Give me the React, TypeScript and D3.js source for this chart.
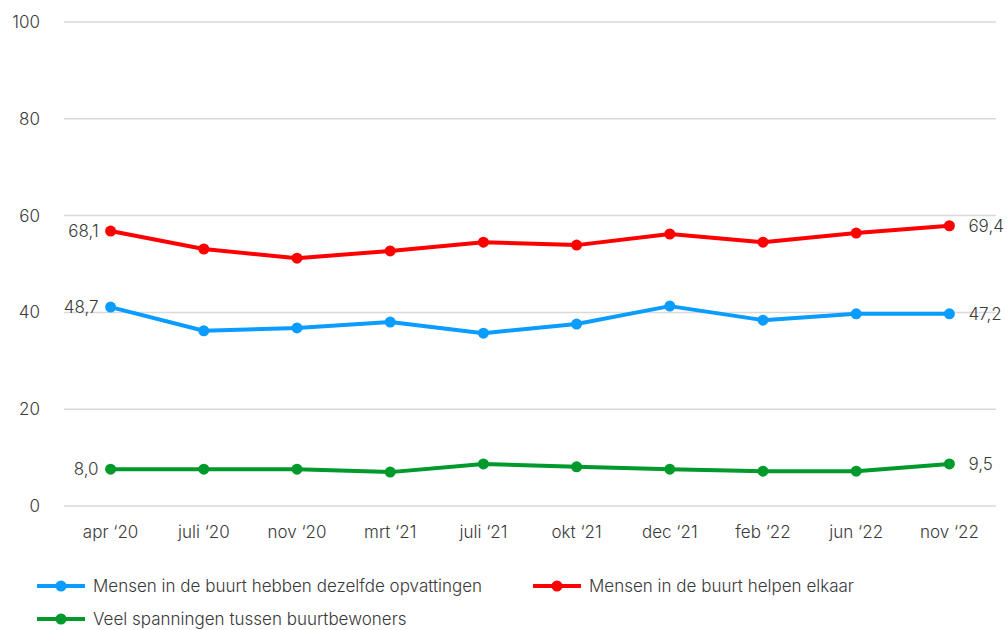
import React, { useEffect, useRef } from 'react'
import * as d3 from 'd3'

// categories and series (plotted positions)
const categories = ['apr ‘20', 'juli ‘20', 'nov ‘20', 'mrt ‘21', 'juli ‘21', 'okt ‘21', 'dec ‘21', 'feb ‘22', 'jun ‘22', 'nov ‘22']
const opvattingen = [41.1, 36.2, 36.8, 38.0, 35.7, 37.6, 41.3, 38.4, 39.7, 39.7]
const helpen = [56.8, 53.1, 51.2, 52.7, 54.5, 53.9, 56.2, 54.5, 56.4, 57.9]
const spanningen = [7.6, 7.6, 7.6, 7.0, 8.7, 8.1, 7.6, 7.2, 7.2, 8.7]
const yTicks = [0, 20, 40, 60, 80, 100]

// end labels as printed in the chart
const seriesNames = [
  'Mensen in de buurt hebben dezelfde opvattingen',
  'Mensen in de buurt helpen elkaar',
  'Veel spanningen tussen buurtbewoners',
]
const firstLabels = ['48,7', '68,1', '8,0']
const lastLabels = ['47,2', '69,4', '9,5']
const colors = ['#0a9dff', '#ff0000', '#00992b']

const width = 1007
const height = 630
const margin = { top: 22, right: 11, bottom: 124, left: 64 }
const font = 'Inter, "Open Sans", sans-serif'
const fontSize = 17
const textColor = '#3a3a3a'

const App = () => {
  const ref = useRef<SVGSVGElement>(null)

  useEffect(() => {
    const svg = d3.select(ref.current)
    svg.selectAll('*').remove()

    const x = d3.scaleBand()
      .domain(categories)
      .range([margin.left, width - margin.right])

    const y = d3.scaleLinear()
      .domain([0, 100])
      .range([height - margin.bottom, margin.top])

    const cx = (c: string) => (x(c) as number) + x.bandwidth() / 2

    // Gridlines
    svg.append('g')
      .selectAll('line')
      .data(yTicks)
      .join('line')
        .attr('x1', margin.left)
        .attr('x2', width - margin.right)
        .attr('y1', d => y(d))
        .attr('y2', d => y(d))
        .attr('stroke', '#d9d9d9')
        .attr('stroke-width', 1.5)

    // Y axis
    const yAxis = svg.append('g')
      .attr('transform', `translate(${margin.left - 24},0)`)
      .call(d3.axisLeft(y).tickValues(yTicks).tickSize(0).tickPadding(0))
    yAxis.select('.domain').remove()

    // X axis
    const xAxis = svg.append('g')
      .attr('transform', `translate(0,${height - margin.bottom})`)
      .call(d3.axisBottom(x).tickSize(0).tickPadding(20))
    xAxis.select('.domain').remove()

    svg.selectAll('.tick text')
      .attr('font-family', font)
      .attr('font-size', fontSize)
      .attr('font-weight', 300)
      .attr('fill', textColor)

    const series = [opvattingen, helpen, spanningen]
    const line = d3.line<number>()
      .x((d, i) => cx(categories[i]))
      .y(d => y(d))

    series.forEach((values, s) => {
      const g = svg.append('g')
      g.append('path')
        .datum(values)
        .attr('fill', 'none')
        .attr('stroke', colors[s])
        .attr('stroke-width', 4)
        .attr('stroke-linejoin', 'round')
        .attr('d', line)
      g.selectAll('circle')
        .data(values)
        .join('circle')
          .attr('cx', (d, i) => cx(categories[i]))
          .attr('cy', d => y(d))
          .attr('r', 5.5)
          .attr('fill', colors[s])

      // First and last value labels
      g.append('text')
        .attr('x', cx(categories[0]) - 12)
        .attr('y', y(values[0]))
        .attr('dy', '0.35em')
        .attr('text-anchor', 'end')
        .attr('font-family', font)
        .attr('font-size', fontSize)
        .attr('font-weight', 300)
        .attr('fill', textColor)
        .text(firstLabels[s])
      g.append('text')
        .attr('x', cx(categories[categories.length - 1]) + 19)
        .attr('y', y(values[values.length - 1]))
        .attr('dy', '0.35em')
        .attr('font-family', font)
        .attr('font-size', fontSize)
        .attr('font-weight', 300)
        .attr('fill', textColor)
        .text(lastLabels[s])
    })

    // Legend
    const legendPos = [[37, 586], [533, 586], [37, 619]]
    const legend = svg.append('g')
      .selectAll('g')
      .data(seriesNames)
      .join('g')
        .attr('transform', (d, i) => `translate(${legendPos[i][0]},${legendPos[i][1]})`)
    legend.append('line')
      .attr('x1', 0)
      .attr('x2', 48)
      .attr('stroke', (d, i) => colors[i])
      .attr('stroke-width', 4)
    legend.append('circle')
      .attr('cx', 24)
      .attr('r', 5.5)
      .attr('fill', (d, i) => colors[i])
    legend.append('text')
      .attr('x', 56)
      .attr('dy', '0.35em')
      .attr('font-family', font)
      .attr('font-size', fontSize)
      .attr('font-weight', 300)
      .attr('fill', textColor)
      .text(d => d)
  }, [])

  return (
    <svg
      ref={ref}
      width={width}
      height={height}
      style={{ position: 'absolute', left: 0, top: 0, background: '#fff' }}
    />
  )
}

export default App
